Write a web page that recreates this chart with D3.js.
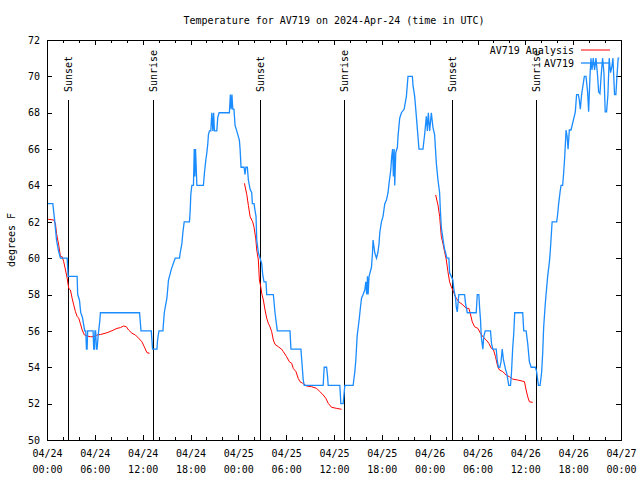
<!DOCTYPE html>
<html>
<head>
<meta charset="utf-8">
<script src="https://cdn.jsdelivr.net/npm/d3@7"></script>
<style>
    body { margin: 0; background: #fff; }
    text { font-family: "DejaVu Sans Mono", monospace; font-size: 10px; fill: #000; }
</style>
</head>
<body>
<div id="chart"></div>
<script>
// Hours since 2024-04-24 00:00 UTC, temperature in degrees F
var analysisData = [
    [0.15, 62.14], [0.85, 62.1], [1.06, 61.9], [1.19, 61.37], [1.48, 60.7], [1.69, 60.08], [1.9, 60.08],
    [2.1, 59.8], [2.32, 59.35], [2.53, 58.9], [2.73, 58.34], [2.94, 58.25], [3.15, 57.8], [3.35, 57.43],
    [3.57, 57.06], [3.78, 56.8], [3.98, 56.7], [4.19, 56.4], [4.41, 56.05], [4.69, 55.78], [5.03, 55.72],
    [5.44, 55.68], [5.86, 55.68], [6.28, 55.78], [6.7, 55.8], [7.53, 55.9], [8.36, 56.05], [8.78, 56.14],
    [9.2, 56.18], [9.61, 56.27], [9.95, 56.23], [10.24, 56.05], [10.66, 55.87], [11.08, 55.78],
    [11.49, 55.6], [11.91, 55.4], [12.2, 55.13], [12.54, 54.8], [12.87, 54.77]
];
var analysisData2 = [
    [24.76, 64.12], [25.06, 63.5], [25.26, 62.9], [25.47, 62.3], [25.68, 62.1], [25.8, 62], [25.97, 61.7],
    [26.18, 61.1], [26.31, 60.45], [26.51, 59.9], [26.64, 58.8], [26.81, 58.43], [26.93, 58.07],
    [27.14, 57.7], [27.35, 57.15], [27.56, 56.7], [27.76, 56.42], [27.97, 56.23], [28.18, 55.96],
    [28.39, 55.5], [28.6, 55.26], [29.01, 55.13], [29.44, 54.99], [29.64, 54.86], [30.06, 54.58],
    [30.39, 54.31], [30.69, 54.22], [30.89, 53.94], [31.23, 53.76], [31.51, 53.39], [31.73, 53.21],
    [32.06, 53.12], [32.57, 52.97], [33.19, 52.93], [33.82, 52.84], [34.23, 52.66], [34.64, 52.48],
    [34.98, 52.29], [35.27, 52.02], [35.69, 51.8], [36.32, 51.74], [36.95, 51.69]
];
var analysisData3 = [
    [48.75, 63.48], [49.04, 62.93], [49.25, 62.3], [49.46, 61.2], [49.66, 60.82], [49.87, 60.36],
    [50.09, 59.9], [50.29, 59.26], [50.5, 58.7], [50.71, 58.43], [50.91, 58.25], [51.13, 57.98],
    [51.34, 57.8], [51.66, 57.6], [52.17, 57.43], [52.59, 57.24], [52.92, 57.24], [53.09, 56.97],
    [53.34, 56.5], [53.63, 56.23], [54.04, 56.14], [54.38, 55.87], [54.67, 55.68], [55.09, 55.5],
    [55.42, 55.32], [55.72, 55.05], [56.01, 54.95], [56.26, 54.58], [56.54, 54.03], [56.76, 53.85],
    [57.17, 53.76], [57.6, 53.57], [58.01, 53.48], [58.42, 53.35], [59.05, 53.3], [59.89, 53.21],
    [60.1, 52.75], [60.3, 52.38], [60.51, 52.1], [60.93, 52.07]
];

var obsData = [
    [0, 63], [0.73, 63], [0.98, 62], [1.19, 61], [1.44, 60.4], [1.69, 60], [2.53, 60], [2.65, 59],
    [3.78, 59], [3.85, 58], [4.07, 57.7], [4.23, 57], [4.44, 56.75], [4.73, 56], [4.86, 56], [4.95, 55],
    [5.03, 55], [5.1, 56], [5.78, 56], [5.86, 55], [5.94, 55], [6.02, 56], [6.1, 56], [6.2, 55],
    [6.28, 55], [6.41, 55.7], [6.61, 56.5], [6.7, 57], [11.61, 57], [11.79, 56], [13.08, 56],
    [13.24, 55], [13.79, 55], [13.87, 55.5], [14.04, 56], [14.54, 56], [14.71, 57], [14.87, 57.4],
    [15.04, 57.8], [15.24, 58.8], [15.6, 59.4], [16.08, 60], [16.62, 60], [16.71, 60.3], [16.92, 60.8],
    [17.04, 61.4], [17.21, 62], [17.87, 62], [17.96, 62.6], [18.04, 63.5], [18.17, 64], [18.37, 64],
    [18.47, 66], [18.55, 64.5], [18.63, 66], [18.8, 64], [19.62, 64], [19.75, 64.7], [19.92, 65.4],
    [20.05, 65.8], [20.17, 66.3], [20.25, 66.8], [20.38, 67], [20.55, 67], [20.67, 68], [20.8, 67],
    [20.9, 68], [21.0, 67], [21.3, 67], [21.42, 67.75], [21.59, 68], [22.88, 68], [23.0, 69],
    [23.1, 68.2], [23.2, 69], [23.3, 68.2], [23.45, 68.2], [23.59, 67.3], [23.8, 67], [24.13, 66.5],
    [24.22, 66], [24.34, 65], [24.72, 65], [24.84, 64.6], [24.95, 65], [25.13, 65], [25.26, 64.3],
    [25.47, 63.8], [25.68, 63.6], [25.76, 63], [25.97, 63], [26.1, 62.6], [26.22, 62.3], [26.31, 61],
    [26.51, 60.3], [26.72, 60], [26.93, 59.7], [27.06, 59.1], [27.22, 58.7], [27.47, 58.7], [27.56, 58],
    [28.39, 58], [28.6, 57], [28.89, 56], [30.48, 56], [30.6, 55], [31.85, 55], [32.14, 53.3],
    [32.27, 53], [34.64, 53], [34.77, 54], [35.07, 54], [35.19, 53.5], [35.27, 53], [36.73, 53],
    [36.86, 52], [37.15, 52], [37.36, 53], [38.4, 53], [38.61, 53.75], [38.74, 54.4], [38.9, 55.7],
    [39.15, 56.6], [39.32, 57.3], [39.45, 57.8], [39.65, 58], [39.86, 58.25], [39.99, 58.7], [40.1, 58],
    [40.2, 59], [40.28, 58], [40.4, 59], [40.7, 59.5], [40.83, 60.3], [40.9, 61], [41.11, 60.3],
    [41.33, 60], [41.5, 60.3], [41.65, 60.8], [41.74, 61.4], [41.95, 62], [42.15, 62.3], [42.37, 63],
    [42.58, 63.2], [42.78, 63.6], [42.9, 64.1], [43.12, 64.85], [43.24, 65.6], [43.35, 66],
    [43.45, 64.5], [43.55, 66], [43.62, 64], [43.75, 65.8], [43.95, 66.1], [44.03, 66.7], [44.24, 67.7],
    [44.46, 68], [44.8, 68.2], [45.08, 68.9], [45.28, 70], [45.83, 70], [45.91, 69.5], [46.12, 68.9],
    [46.33, 67.8], [46.53, 66.7], [46.66, 66], [47.16, 66], [47.37, 66.8], [47.58, 67.8], [47.71, 67],
    [47.83, 68], [48.0, 67], [48.21, 68], [48.41, 67.2], [48.62, 66.8], [48.84, 65.2], [49.04, 64.3],
    [49.25, 63.6], [49.34, 62.65], [49.46, 61.7], [49.59, 61.3], [49.75, 60.8], [49.87, 60.5],
    [50.0, 60.3], [50.16, 60], [50.41, 60], [50.5, 59.2], [50.71, 59], [50.91, 58.8], [51.04, 58.25],
    [51.25, 57.8], [51.34, 57.3], [51.46, 57.05], [51.66, 58], [52.38, 58], [52.5, 57.5], [52.72, 57],
    [53.84, 57], [53.97, 58], [54.17, 58], [54.26, 57.3], [54.38, 56.6], [54.47, 55.7], [54.67, 55],
    [54.79, 55.7], [54.97, 56], [55.63, 56], [55.76, 55.3], [55.92, 55], [56.35, 55], [56.47, 54.4],
    [56.63, 54], [56.8, 54], [56.95, 54.3], [57.1, 55], [57.26, 54.4], [57.51, 53.9], [57.67, 53.67],
    [57.92, 53], [58.14, 53], [58.26, 53.67], [58.42, 55.1], [58.55, 55.87], [58.67, 57], [59.67, 57],
    [59.8, 56], [60.1, 56], [60.3, 55.3], [60.51, 54.3], [60.73, 54], [61.26, 54], [61.4, 53.8],
    [61.64, 53], [61.85, 53], [62.05, 53.75], [62.18, 54.8], [62.3, 56.2], [62.47, 57.3], [62.6, 58],
    [62.8, 59], [63.02, 59.8], [63.14, 60.45], [63.36, 62], [63.93, 62], [64.05, 62.4], [64.18, 63],
    [64.36, 63.65], [64.48, 64], [64.68, 64], [64.81, 64.7], [64.93, 65.5], [65.11, 67.05],
    [65.24, 66.7], [65.36, 66], [65.52, 67.05], [65.73, 67.05], [66.14, 67.8], [66.27, 68.05],
    [66.43, 69], [66.65, 69], [66.77, 68.7], [66.9, 68.2], [67.06, 69], [67.4, 70], [67.61, 70],
    [67.81, 69.15], [67.94, 68.05], [68.11, 70], [68.23, 71], [68.36, 70.35], [68.52, 71],
    [68.69, 70.35], [68.86, 71], [69.06, 70.06], [69.19, 69.15], [69.36, 69.05], [69.52, 70.1],
    [69.69, 71], [69.86, 70.2], [70.02, 68.05], [70.19, 68.05], [70.36, 69], [70.52, 71], [70.69, 70.2],
    [70.86, 70.55], [70.99, 71], [71.19, 69], [71.36, 69], [71.49, 70], [71.65, 71], [71.78, 71]
];

var sunHours = [2.70, 13.36, 26.78, 37.32, 50.87, 61.4];
var sunLabels = ["Sunset", "Sunrise", "Sunset", "Sunrise", "Sunset", "Sunrise"];
var yTicks = [50, 52, 54, 56, 58, 60, 62, 64, 66, 68, 70, 72];

var svgWidth = 640;
var svgHeight = 480;
var margin = { top: 40, right: 19, bottom: 40, left: 47 };
var width = svgWidth - margin.left - margin.right;
var height = svgHeight - margin.top - margin.bottom;

var t0 = Date.UTC(2024, 3, 24);
function toDate(h) { return new Date(t0 + h * 3600e3); }

var svg = d3.select("#chart").append("svg")
    .attr("width", svgWidth)
    .attr("height", svgHeight);

var chartGroup = svg.append("g")
    .attr("transform", `translate(${margin.left}, ${margin.top})`);

var x = d3.scaleUtc().domain([toDate(0), toDate(72)]).range([0, width]);
var y = d3.scaleLinear().domain([50, 72]).range([height, 0]);

var fmtDay = d3.utcFormat("%m/%d");
var fmtTime = d3.utcFormat("%H:%M");

// minor x ticks (2h), bottom and top
chartGroup.append("g")
    .attr("transform", `translate(0, ${height})`)
    .call(d3.axisBottom(x).ticks(d3.utcHour.every(2)).tickSize(-3).tickSizeOuter(0).tickFormat(""))
    .call(g => g.select(".domain").remove());
chartGroup.append("g")
    .call(d3.axisTop(x).ticks(d3.utcHour.every(2)).tickSize(-3).tickSizeOuter(0).tickFormat(""))
    .call(g => g.select(".domain").remove());

// major x ticks (6h)
var xAxis = chartGroup.append("g")
    .attr("transform", `translate(0, ${height})`)
    .call(d3.axisBottom(x).ticks(d3.utcHour.every(6)).tickSize(-5).tickSizeOuter(0).tickFormat(""))
    .call(g => g.select(".domain").remove());
xAxis.selectAll(".tick text").remove();
var xLabels = xAxis.selectAll(".tick").append("text")
    .attr("text-anchor", "middle")
    .attr("fill", "#000");
xLabels.append("tspan").attr("x", 0).attr("y", 17).text(d => fmtDay(d));
xLabels.append("tspan").attr("x", 0).attr("y", 33).text(d => fmtTime(d));

chartGroup.append("g")
    .call(d3.axisTop(x).ticks(d3.utcHour.every(6)).tickSize(-5).tickSizeOuter(0).tickFormat(""))
    .call(g => g.select(".domain").remove());

// y axes
chartGroup.append("g")
    .call(d3.axisLeft(y).tickValues(yTicks).tickSize(-5).tickSizeOuter(0).tickPadding(7))
    .call(g => g.select(".domain").remove());
chartGroup.append("g")
    .attr("transform", `translate(${width}, 0)`)
    .call(d3.axisRight(y).tickValues(yTicks).tickSize(-5).tickSizeOuter(0).tickFormat(""))
    .call(g => g.select(".domain").remove());

svg.selectAll(".tick line").attr("shape-rendering", "crispEdges");
svg.selectAll("g[font-size]").attr("font-size", null).attr("font-family", null);

// sunrise / sunset markers
chartGroup.selectAll(".sunLine")
    .data(sunHours)
    .enter()
    .append("line")
    .attr("class", "sunLine")
    .attr("x1", d => x(toDate(d)))
    .attr("x2", d => x(toDate(d)))
    .attr("y1", height)
    .attr("y2", height * 0.15)
    .attr("stroke", "#000")
    .attr("shape-rendering", "crispEdges");

chartGroup.selectAll(".sunText")
    .data(sunHours)
    .enter()
    .append("text")
    .attr("class", "sunText")
    .attr("transform", d => `translate(${x(toDate(d))}, ${height * 0.13}) rotate(-90)`)
    .attr("dy", "0.35em")
    .text((d, i) => sunLabels[i]);

var line = d3.line()
    .x(d => x(toDate(d[0])))
    .y(d => y(d[1]));

[analysisData, analysisData2, analysisData3].forEach(function (seg) {
    chartGroup.append("path")
        .datum(seg)
        .attr("fill", "none")
        .attr("stroke", "#ff0000")
        .attr("stroke-width", 1)
        .attr("d", line);
});

chartGroup.append("path")
    .datum(obsData)
    .attr("fill", "none")
    .attr("stroke", "#1a8cff")
    .attr("stroke-width", 1.3)
    .attr("d", line);

// frame
chartGroup.append("rect")
    .attr("x", 0)
    .attr("y", 0)
    .attr("width", width)
    .attr("height", height)
    .attr("fill", "none")
    .attr("stroke", "#000")
    .attr("shape-rendering", "crispEdges");

// legend
var legend = chartGroup.append("g");
legend.append("text").attr("x", 527).attr("y", 10).attr("dy", "0.35em")
    .attr("text-anchor", "end").text("AV719 Analysis");
legend.append("line").attr("x1", 534).attr("x2", 563).attr("y1", 10).attr("y2", 10)
    .attr("stroke", "#ff0000");
legend.append("text").attr("x", 527).attr("y", 23).attr("dy", "0.35em")
    .attr("text-anchor", "end").text("AV719");
legend.append("line").attr("x1", 534).attr("x2", 563).attr("y1", 23).attr("y2", 23)
    .attr("stroke", "#1a8cff").attr("stroke-width", 1.3);

// titles
svg.append("text")
    .attr("x", 334)
    .attr("y", 20)
    .attr("dy", "0.35em")
    .attr("text-anchor", "middle")
    .text("Temperature for AV719 on 2024-Apr-24 (time in UTC)");

svg.append("text")
    .attr("transform", `translate(11, ${margin.top + height / 2}) rotate(-90)`)
    .attr("dy", "0.35em")
    .attr("text-anchor", "middle")
    .text("degrees F");
</script>
</body>
</html>
